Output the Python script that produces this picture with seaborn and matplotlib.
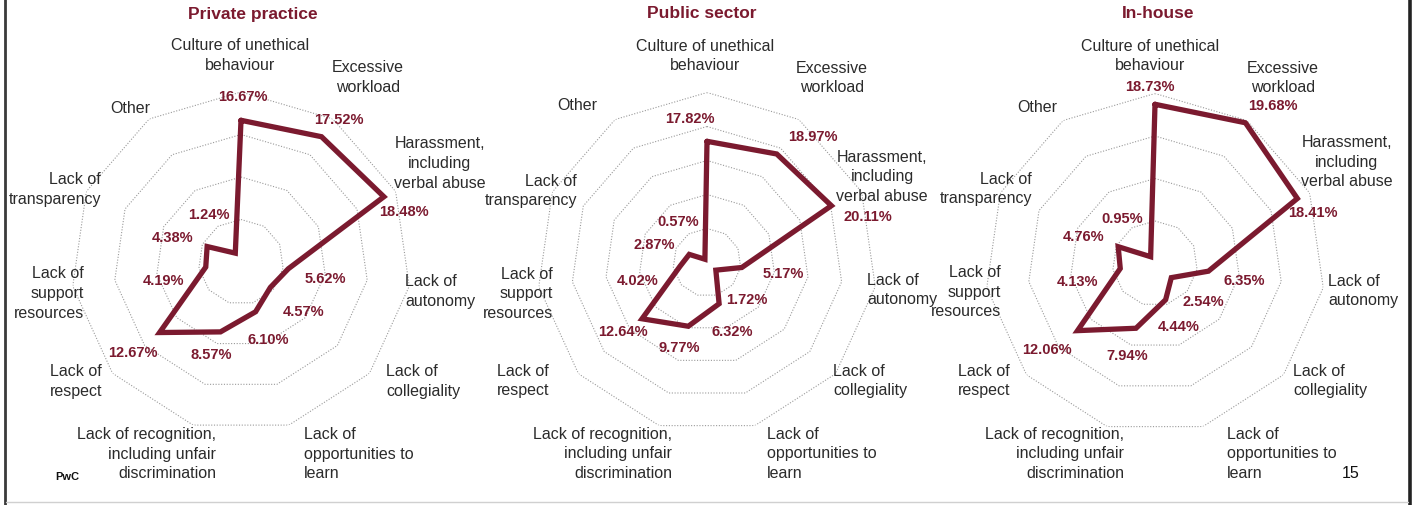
import numpy as np
import pandas as pd
import matplotlib
matplotlib.use("Agg")
import matplotlib.pyplot as plt
from matplotlib.lines import Line2D
import seaborn as sns

# ---- data -------------------------------------------------------------
categories = [
    "Culture of unethical\nbehaviour",
    "Excessive\nworkload",
    "Harassment,\nincluding\nverbal abuse",
    "Lack of\nautonomy",
    "Lack of\ncollegiality",
    "Lack of\nopportunities to\nlearn",
    "Lack of recognition,\nincluding unfair\ndiscrimination",
    "Lack of\nrespect",
    "Lack of\nsupport\nresources",
    "Lack of\ntransparency",
    "Other",
]
panel_titles = ["Private practice", "Public sector", "In-house"]
private_practice = [16.67, 17.52, 18.48, 5.62, 4.57, 6.10, 8.57, 12.67, 4.19, 4.38, 1.24]
public_sector = [17.82, 18.97, 20.11, 5.17, 1.72, 6.32, 9.77, 12.64, 4.02, 2.87, 0.57]
in_house = [18.73, 19.68, 18.41, 6.35, 2.54, 4.44, 7.94, 12.06, 4.13, 4.76, 0.95]
ring_values = [[5, 10, 15, 20], [5, 10, 15, 20, 25], [5, 10, 15, 20]]
series = [private_practice, public_sector, in_house]

# ---- style ------------------------------------------------------------
MAROON = "#7B1A2F"
TEXT = "#2b2b2b"
GRID = "#9a9a9a"

sns.set_theme(style="white")
plt.rcParams["font.family"] = ["Liberation Sans", "DejaVu Sans"]

W, H = 1415, 506
fig = plt.figure(figsize=(W / 100, H / 100), dpi=100)
fig.patch.set_facecolor("white")

R = 170            # polar radius in pixels
LINE_STEP = 19.5   # line pitch of category labels in pixels
centers = [(241, 263), (707, 263.5), (1155, 264.5)]
title_shift = [12, -5, 3]

# category label placement per panel: offset of block centre from polar
# centre (px, y up) and horizontal alignment
ALIGN = ["center", "center", "center", "left", "left", "left",
         "right", "right", "right", "right", "center"]
label_layout = [
    [(-1, 209), (127, 187), (199, 101), (164, -27), (145, -117), (63, -190),
     (-25, -190), (-139, -117), (-157, -29), (-140, 75), (-111, 156)],
    [(-2, 209), (125, 187), (175, 88), (160, -25), (126, -116), (60, -189),
     (-35, -189), (-158, -116), (-154, -29), (-130, 74), (-130, 159)],
    [(-5, 210), (128, 188), (192, 104), (173, -25), (138, -115), (72, -188),
     (-31, -188), (-145, -115), (-154, -26), (-123, 77), (-118, 158)],
]
# value label offsets from each vertex (px, y up)
value_offsets = [
    [(2, 24), (17, 18), (20, -14), (37, -9), (33, -24), (13, -27),
     (-9, -22), (-27, -19), (-42, -13), (-35, 10), (-26, 39)],
    [(-17, 23), (36, 18), (36, -10), (41, -5), (31, -29), (13, -27),
     (-9, -21), (-19, -12), (-42, -14), (-35, 10), (-27, 38)],
    [(-5, 18), (27, 18), (16, -14), (36, -9), (32, -23), (13, -26),
     (-9, -27), (-31, -18), (-43, -13), (-35, 11), (-28, 39)],
]

n = len(categories)
theta = np.linspace(0, 2 * np.pi, n, endpoint=False)
theta_closed = np.append(theta, theta[0])

for i, (vals, title, rings, (cx, cy)) in enumerate(zip(series, panel_titles, ring_values, centers)):
    ax = fig.add_axes([(cx - R) / W, (H - cy - R) / H, 2 * R / W, 2 * R / H], projection="polar")
    ax.set_theta_offset(np.pi / 2)
    ax.set_theta_direction(-1)
    ax.set_ylim(0, rings[-1])
    ax.set_axis_off()

    # dotted polygon rings
    for rv in rings:
        ax.plot(theta_closed, [rv] * (n + 1), color=GRID, lw=0.8, ls=(0, (1, 1.5)), zorder=1)

    df = pd.DataFrame({"theta": theta_closed, "value": list(vals) + [vals[0]]})
    sns.lineplot(data=df, x="theta", y="value", sort=False, estimator=None, ax=ax,
                 color=MAROON, lw=3.8, zorder=3)
    ax.get_lines()[-1].set_solid_joinstyle("miter")
    ax.set_xlabel("")
    ax.set_ylabel("")

    # value labels
    for t, v, (dx, dy) in zip(theta, vals, value_offsets[i]):
        ax.annotate(f"{v:.2f}%", xy=(t, v), xytext=(dx, dy), textcoords="offset pixels",
                    ha="center", va="center", color=MAROON, fontsize=10.5,
                    fontweight="bold", zorder=4)

    # category labels, one text per line
    for lab, (dx, dy), ha in zip(categories, label_layout[i], ALIGN):
        lines = lab.split("\n")
        top = dy + (len(lines) - 1) * LINE_STEP / 2
        for k, line in enumerate(lines):
            ax.text(0.5 + dx / (2 * R), 0.5 + (top - k * LINE_STEP) / (2 * R), line,
                    transform=ax.transAxes, ha=ha, va="center_baseline", color=TEXT,
                    fontsize=11.5)

    ax.text(0.5 + title_shift[i] / (2 * R), 0.5 + (cy - 14) / (2 * R), title,
            transform=ax.transAxes, ha="center", va="center", color=MAROON,
            fontsize=12.5, fontweight="bold")

# footer texts
fig.text(67 / W, 1 - 477 / H, "PwC", ha="center", va="center", fontsize=8,
         fontweight="bold", color="#111111")
fig.text(1351 / W, 1 - 473 / H, "15", ha="center", va="center", fontsize=11.5,
         color="#111111")

# slide frame
fig.add_artist(Line2D([5 / W, 5 / W], [0, 1], color="#3a3a3a", lw=2.0, transform=fig.transFigure))
fig.add_artist(Line2D([1409.5 / W, 1409.5 / W], [0, 1], color="#222222", lw=2.6, transform=fig.transFigure))
fig.add_artist(Line2D([6 / W, 1408 / W], [1 - 502.5 / H, 1 - 502.5 / H], color="#d0d0d0", lw=1.0,
                      transform=fig.transFigure))

fig.savefig("out.png", dpi=100, facecolor="white")
